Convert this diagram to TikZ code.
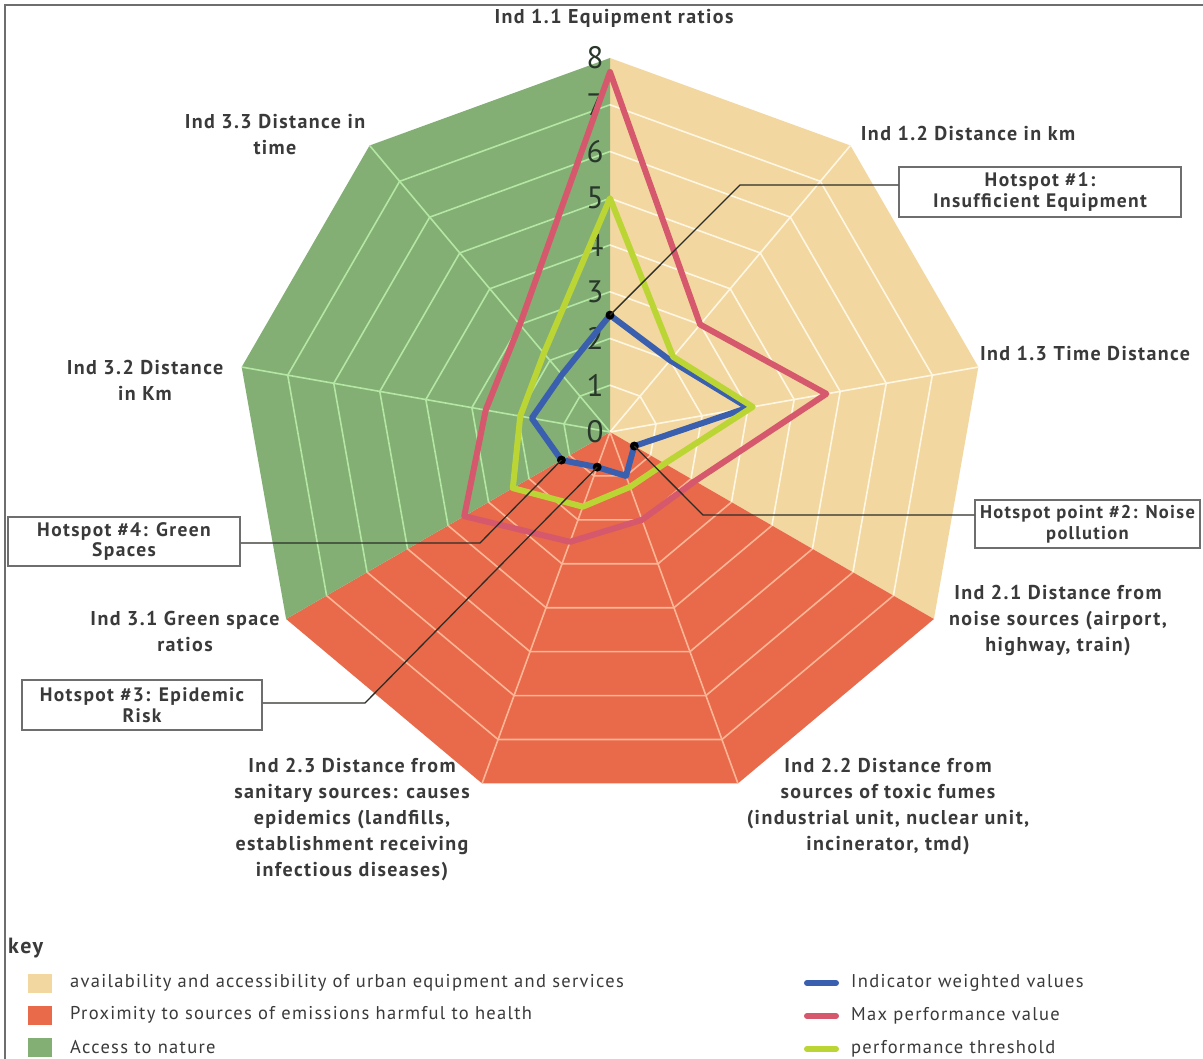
\documentclass[tikz,border=0pt]{standalone}
\usepackage{fontspec}
\setmainfont{PT Sans}[LetterSpace=7]
\usetikzlibrary{calc}
\definecolor{beige}{RGB}{242,216,160}
\definecolor{redreg}{RGB}{232,106,74}
\definecolor{greenreg}{RGB}{131,175,117}
\definecolor{gridB}{RGB}{255,246,228}
\definecolor{gridR}{RGB}{252,182,150}
\definecolor{gridG}{RGB}{180,230,164}
\definecolor{serBlue}{RGB}{58,95,175}
\definecolor{serPink}{RGB}{214,88,108}
\definecolor{serLime}{RGB}{187,214,52}
\definecolor{txt}{RGB}{58,58,58}
\definecolor{numc}{RGB}{40,55,42}
\definecolor{boxgray}{RGB}{110,110,110}
\definecolor{connc}{RGB}{45,45,40}
\tikzset{
 lbl/.style={font=\bfseries\fontsize{20}{26}\selectfont, text=txt, align=center, inner sep=0pt},
 hbox/.style={draw=boxgray, line width=1.5pt, fill=white, font=\bfseries\fontsize{19.5}{20.5}\selectfont, text=txt, align=center, inner sep=0pt, minimum height=50pt},
 conn/.style={draw=connc, line width=1.3pt},
 ser/.style={line width=6pt, line join=round},
 keytxt/.style={font=\fontsize{18.5}{20}\selectfont, text=txt, anchor=west, inner sep=0pt},
 num/.style={font=\fontsize{31}{31}\selectfont, text=numc, inner sep=0pt},
 hdot/.style={circle, fill=black, inner sep=0pt, minimum size=9pt},
 ring/.style={line width=1.6pt}
}
\begin{document}
\begin{tikzpicture}[x=1pt,y=-1pt]
\useasboundingbox (0,0) rectangle (1203,1059);
\fill[white] (0,0) rectangle (1203,1059);
\draw[boxgray, line width=1.5pt] (5,1059) -- (5,5) -- (1203,5);

% axis labels (drawn under the chart)
\node[lbl] (l11) at (614,18) {Ind 1.1 Equipment ratios};
\node[lbl] (l12) at (968,134) {Ind 1.2 Distance in km};
\node[lbl] (l13) at (1085,354) {Ind 1.3 Time Distance};
\node[lbl] (l21) at (1058,621) {Ind 2.1 Distance from\\noise sources (airport,\\highway, train)};
\node[lbl] (l22) at (888,807) {Ind 2.2 Distance from\\sources of toxic fumes\\(industrial unit, nuclear unit,\\incinerator, tmd)};
\node[lbl] (l23) at (352,820) {Ind 2.3 Distance from\\sanitary sources: causes\\epidemics (landfills,\\establishment receiving\\infectious diseases)};
\node[lbl] (l31) at (185,631) {Ind 3.1 Green space\\ratios};
\node[lbl] (l32) at (145,380) {Ind 3.2 Distance\\in Km};
\node[lbl] (l33) at (275,135) {Ind 3.3 Distance in\\time};

\coordinate (C) at (610,432);
\foreach \k in {0,...,8}
  \coordinate (V\k) at ({610+374*cos(40*\k-90)},{432+374*sin(40*\k-90)});

% regions
\fill[beige] (C) -- (V0) -- (V1) -- (V2) -- (V3) -- cycle;
\fill[redreg] (C) -- (V3) -- (V4) -- (V5) -- (V6) -- cycle;
\fill[greenreg] (C) -- (V6) -- (V7) -- (V8) -- (V0) -- cycle;

% grids
\begin{scope}
\clip (C) -- (V0) -- (V1) -- (V2) -- (V3) -- cycle;
\foreach \i in {1,...,7}
  \draw[gridB, ring] plot[variable=\t, samples at={0,...,9}] ({610+46.75*\i*cos(40*\t-90)},{432+46.75*\i*sin(40*\t-90)});
\foreach \k in {1,2} \draw[gridB, ring] (C) -- (V\k);
\end{scope}
\begin{scope}
\clip (C) -- (V3) -- (V4) -- (V5) -- (V6) -- cycle;
\foreach \i in {1,...,7}
  \draw[gridR, ring] plot[variable=\t, samples at={0,...,9}] ({610+46.75*\i*cos(40*\t-90)},{432+46.75*\i*sin(40*\t-90)});
\foreach \k in {4,5} \draw[gridR, ring] (C) -- (V\k);
\end{scope}
\begin{scope}
\clip (C) -- (V6) -- (V7) -- (V8) -- (V0) -- cycle;
\foreach \i in {1,...,7}
  \draw[gridG, ring] plot[variable=\t, samples at={0,...,9}] ({610+46.75*\i*cos(40*\t-90)},{432+46.75*\i*sin(40*\t-90)});
\foreach \k in {7,8} \draw[gridG, ring] (C) -- (V\k);
\end{scope}

% scale numbers
\foreach \i in {0,...,8}
  \node[num] (n\i) at (595,{432-46.75*\i}) {\i};

% series
\foreach \v [count=\n from 0] in {7.7,3.0,4.7,2.1,2.0,2.5,3.6,2.7,3.0}
  \coordinate (p\n) at ({610+46.75*\v*cos(40*\n-90)},{432+46.75*\v*sin(40*\n-90)});
\foreach \v [count=\n from 0] in {2.5,2.0,3.0,0.6,1.0,0.8,1.2,1.7,1.6}
  \coordinate (b\n) at ({610+46.75*\v*cos(40*\n-90)},{432+46.75*\v*sin(40*\n-90)});
\foreach \v [count=\n from 0] in {5.0,2.1,3.1,1.35,1.25,1.7,2.4,1.95,2.2}
  \coordinate (g\n) at ({610+46.75*\v*cos(40*\n-90)},{432+46.75*\v*sin(40*\n-90)});

\draw[ser, serPink] (p0) -- (p1) -- (p2) -- (p3) -- (p4) -- (p5) -- (p6) -- (p7) -- (p8) -- cycle;
\draw[ser, serBlue] (b0) -- (b1) -- (b2) -- (b3) -- (b4) -- (b5) -- (b6) -- (b7) -- (b8) -- cycle;
\draw[ser, serLime] (g0) -- (g1) -- (g2) -- (g3) -- (g4) -- (g5) -- (g6) -- (g7) -- (g8) -- cycle;

% hotspot dots
\node[hdot] (d1) at (b0) {};
\node[hdot] (d2) at (b3) {};
\node[hdot] (d3) at (b5) {};
\node[hdot] (d4) at (b6) {};

% hotspot boxes
\node[hbox, minimum width=282pt] (h1) at (1040,192) {Hotspot \#1:\\Insufficient Equipment};
\node[hbox, minimum width=225pt, minimum height=48pt, font=\bfseries\fontsize{18.5}{20.5}\selectfont] (h2) at (1087.5,524) {Hotspot point \#2: Noise\\pollution};
\node[hbox, minimum width=232pt, minimum height=49pt] (h4) at (124,541.5) {Hotspot \#4: Green\\Spaces};
\node[hbox, minimum width=240pt] (h3) at (142,705) {Hotspot \#3: Epidemic\\Risk};

\coordinate (k1) at (740,185);
\coordinate (k2) at (703,515);
\coordinate (k4) at (480,543);
\coordinate (k3) at (365,703);
\draw[conn] (d1.center) -- (k1) -- (k1 -| h1.west);
\draw[conn] (d2.center) -- (k2) -- (k2 -| h2.west);
\draw[conn] (d4.center) -- (k4) -- (k4 -| h4.east);
\draw[conn] (d3.center) -- (k3) -- (k3 -| h3.east);

% key
\node[font=\bfseries\fontsize{22}{23}\selectfont, text=txt, anchor=west, inner sep=0pt] (key) at (8,948) {key};
\fill[beige] (28,974) rectangle (52,993);
\fill[redreg] (28,1006) rectangle (52,1025);
\fill[greenreg] (28,1038) rectangle (52,1057);
\node[keytxt] (k1t) at (70,983) {availability and accessibility of urban equipment and services};
\node[keytxt] (k2t) at (70,1015) {Proximity to sources of emissions harmful to health};
\node[keytxt] (k3t) at (70,1047) {Access to nature};
\draw[serBlue, line width=6pt, line cap=round] (807,983) -- (836,983);
\draw[serPink, line width=6pt, line cap=round] (807,1016) -- (836,1016);
\draw[serLime, line width=6pt, line cap=round] (807,1049) -- (836,1049);
\node[keytxt] (k4t) at (851,983) {Indicator weighted values};
\node[keytxt] (k5t) at (851,1016) {Max performance value};
\node[keytxt] (k6t) at (851,1049) {performance threshold};
\end{tikzpicture}
\end{document}
